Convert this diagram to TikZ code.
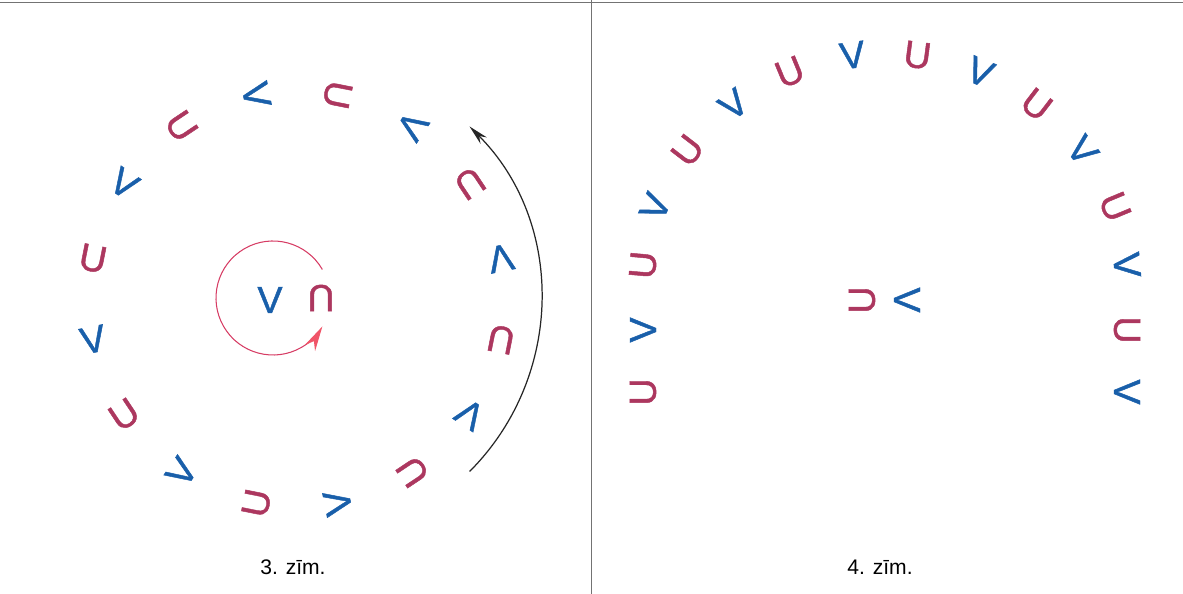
\documentclass[tikz,border=0pt]{standalone}
\usepackage{fontspec}
\setmainfont{Liberation Sans}
\newfontfamily\letterfont[FakeBold=1.2]{Liberation Sans}
\usepackage{xcolor}
\usetikzlibrary{arrows.meta}
\definecolor{vblue}{RGB}{25,95,170}
\definecolor{ucrimson}{RGB}{172,55,95}
\definecolor{ringred}{RGB}{214,60,100}
\definecolor{tipred}{RGB}{240,85,105}

\begin{document}
\begin{tikzpicture}[
    x=0.02cm, y=0.02cm,
    letter/.style={inner sep=0pt, font=\letterfont\fontsize{21.5}{24}\selectfont},
    vl/.style={letter, text=vblue},
    ul/.style={letter, text=ucrimson},
    figcap/.style={font=\fontsize{12}{14}\selectfont},
    rule/.style={draw=black!55, line width=0.5pt},
    arr/.style={-{Stealth[length=4mm, width=1.8mm]}, line width=0.7pt, color=black!85}
  ]
  \useasboundingbox (0,0) rectangle (1183,594);
  \draw[rule] (0,592) -- (1183,592);
  \draw[rule] (591,0) -- (591,594);

  % 3. zim.
  \coordinate (c3) at (297,295);
  \coordinate (c3in) at (273,296);
  \foreach \k in {0,...,15} {
    \pgfmathsetmacro{\ang}{11.25+22.5*\k}
    \pgfmathsetmacro{\rot}{\ang-180}
    \ifodd\k
      \node[ul, rotate=\rot] (a\k) at ([shift={(\ang:208)}]c3) {U};
    \else
      \node[vl, rotate=\rot] (a\k) at ([shift={(\ang:208)}]c3) {V};
    \fi
  }
  \node[vl] (av) at (270,294) {V};
  \node[ul, rotate=180] (au) at (321,296) {U};
  \draw[ringred, line width=0.6pt, -{Stealth[length=5mm, width=2.4mm, color=tipred]}]
    ([shift={(30:57)}]c3in) arc[start angle=30, end angle=330, radius=57];
  \draw[arr] ([shift={(-45:244)}]c3) arc[start angle=-45, end angle=45, radius=244];
  \node[figcap] (cap3) at (293,27) {3. zīm.};

  % 4. zim.
  \coordinate (c4) at (885,292);
  \foreach \k in {0,...,9} {
    \pgfmathsetmacro{\ang}{157.5-15*\k}
    \pgfmathsetmacro{\rot}{\ang-90}
    \ifodd\k
      \node[ul, rotate=\rot] (b\k) at ([shift={(\ang:249)}]c4) {U};
    \else
      \node[vl, rotate=\rot] (b\k) at ([shift={(\ang:249)}]c4) {V};
    \fi
  }
  \node[ul, rotate=85] (bl1) at (643,329) {U};
  \node[vl, rotate=90] (bl2) at (643,264) {V};
  \node[ul, rotate=90] (bl3) at (643,202) {U};
  \node[vl, rotate=-85] (br1) at (1127,329) {V};
  \node[ul, rotate=-90] (br2) at (1127,264) {U};
  \node[vl, rotate=-90] (br3) at (1127,202) {V};
  \node[ul, rotate=90] (bu) at (862,294) {U};
  \node[vl, rotate=-90] (bv) at (907,294) {V};
  \node[figcap] (cap4) at (880,27) {4. zīm.};
\end{tikzpicture}
\end{document}
